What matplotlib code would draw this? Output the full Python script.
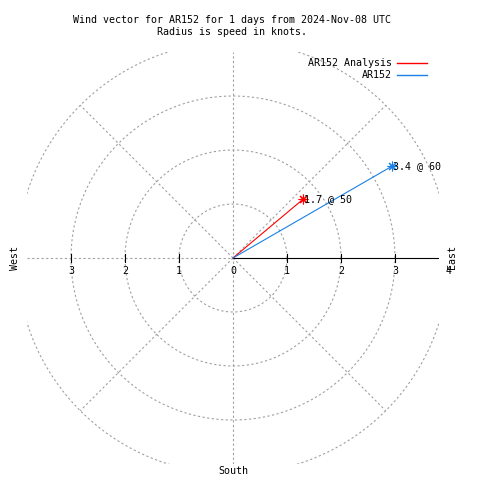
import numpy as np
import matplotlib
matplotlib.use("Agg")
import matplotlib.pyplot as plt

# ---- data ----
series = ["AR152 Analysis", "AR152"]
speeds = [1.7, 3.4]          # knots
directions = [50, 60]        # degrees (compass, clockwise from north)
colors = ["#ff0000", "#1a80e6"]
ring_values = [1, 2, 3, 4]
tick_values = [1, 2, 3]
title = "Wind vector for AR152 for 1 days from 2024-Nov-08 UTC\nRadius is speed in knots."

FONT = "DejaVu Sans Mono"
FS = 7.2
GRID = "#a0a0a0"
LW = 0.8

fig = plt.figure(figsize=(4.8, 4.8), dpi=100)
lim = 3.815
ax = fig.add_axes([27/480, 16/480, 412/480, 412/480])
ax.set_xlim(-lim, lim)
ax.set_ylim(-lim, lim)
ax.set_axis_off()

dash = (0, (2, 2.2))
t = np.linspace(0, 2*np.pi, 721)
for r in ring_values:
    ax.plot(r*np.cos(t), r*np.sin(t), color=GRID, lw=LW, ls=dash, clip_on=True)
for a in [45, 135, 225, 315]:
    ar = np.deg2rad(a)
    ax.plot([0, 4*np.cos(ar)], [0, 4*np.sin(ar)], color=GRID, lw=LW, ls=dash)
# vertical zero axis and west half
ax.plot([0, 0], [-lim, lim], color=GRID, lw=LW, ls=dash)
ax.plot([-lim, 0], [0, 0], color=GRID, lw=LW, ls=dash)
# east radial axis solid
ax.plot([0, lim], [0, 0], color="black", lw=LW)

# ticks
tk = 4/54
for v in tick_values:
    for s in (1, -1):
        ax.plot([s*v, s*v], [-tk, tk], color="black", lw=LW)
# tick labels
ax.text(0, -0.14, "0", ha="center", va="top", family=FONT, fontsize=FS)
for v in tick_values + [4]:
    ax.text(v, -0.14, str(v), ha="center", va="top", family=FONT, fontsize=FS, clip_on=False)
for v in tick_values:
    ax.text(-v, -0.14, str(v), ha="center", va="top", family=FONT, fontsize=FS)

# compass labels
ax.text((15-233)/54, 0, "West", rotation=90, ha="center", va="center", family=FONT, fontsize=FS, clip_on=False)
ax.text((452-233)/54, 0.02, "East", rotation=90, ha="center", va="center", family=FONT, fontsize=FS, clip_on=False)
ax.text(0, (257-470)/54, "South", ha="center", va="center", family=FONT, fontsize=FS, clip_on=False)

# vectors
for name, sp, d, c in zip(series, speeds, directions, colors):
    th = np.deg2rad(d)
    x, y = sp*np.sin(th), sp*np.cos(th)
    ax.plot([0, x], [0, y], color=c, lw=LW)
    ax.plot([x], [y], marker=(8, 2, 0), color=c, ms=7, mew=LW)
    ax.text(x + 0.02, y, f"{sp} @ {d}", ha="left", va="center", family=FONT, fontsize=FS)

# legend
for i, (name, c) in enumerate(zip(series, colors)):
    yy = 63 + 12*i
    fig.text(392/480, 1 - yy/480, name, ha="right", va="center", family=FONT, fontsize=FS)
    fig.add_artist(plt.Line2D([397/480, 427/480], [1 - yy/480]*2, color=c, lw=1.0,
                              transform=fig.transFigure))

fig.text(232/480, 1 - 26/480, title, ha="center", va="center", family=FONT, fontsize=FS, linespacing=1.15)

fig.savefig("out.png", dpi=100, facecolor="white")
